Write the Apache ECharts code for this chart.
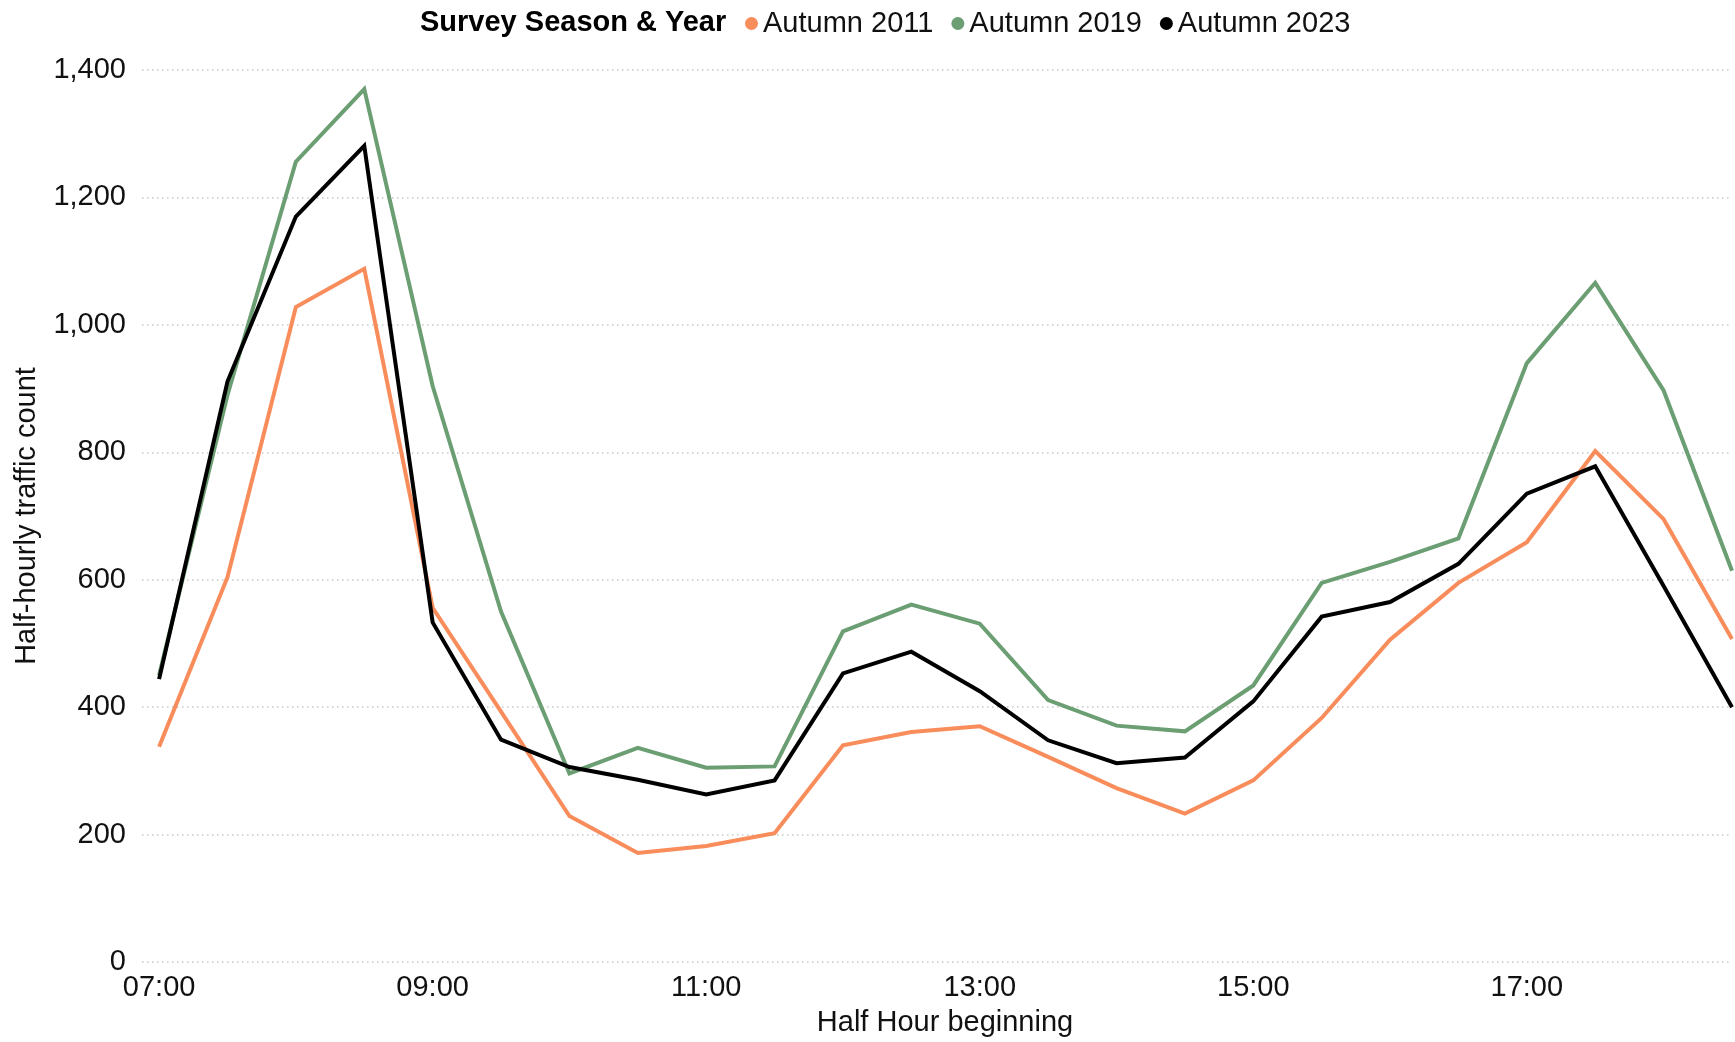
<!DOCTYPE html>
<html>
<head>
<meta charset="utf-8">
<title>Half-hourly traffic count</title>
<script src="https://cdn.jsdelivr.net/npm/echarts@6/dist/echarts.min.js"></script>
<style>
  html, body { margin: 0; padding: 0; background: #ffffff; }
  #chart { width: 1735px; height: 1042px; }
</style>
</head>
<body>
<div id="chart"></div>
<script>
// Half-hour slots, 07:00 to 18:30
const halfHours = ['07:00','07:30','08:00','08:30','09:00','09:30','10:00','10:30','11:00','11:30',
  '12:00','12:30','13:00','13:30','14:00','14:30','15:00','15:30','16:00','16:30',
  '17:00','17:30','18:00','18:30'];

// Traffic counts per survey
const autumn2011 = [338, 604, 1028, 1088, 556, 393, 229, 171, 182, 202, 340, 361,
  370, 322, 273, 233, 285, 383, 506, 595, 659, 802, 695, 507];
const autumn2019 = [450, 890, 1256, 1370, 904, 550, 296, 336, 305, 307, 519, 561,
  531, 411, 371, 362, 434, 595, 628, 665, 940, 1066, 897, 614];
const autumn2023 = [444, 911, 1170, 1281, 533, 349, 306, 286, 263, 285, 453, 487,
  425, 348, 312, 321, 409, 542, 565, 625, 735, 778, 590, 400];

// Axis ticks
const xTickHours = [7, 9, 11, 13, 15, 17];
const yTicks = [0, 200, 400, 600, 800, 1000, 1200, 1400];

const seriesNames = ['Autumn 2011', 'Autumn 2019', 'Autumn 2023'];
const seriesColors = ['#F98C5B', '#6B9E72', '#000000'];

const FONT = '"Liberation Sans", Arial, sans-serif';
const FS = 29;

// "HH:MM" -> decimal hours
function toHours(t) {
  const [h, m] = t.split(':').map(Number);
  return h + m / 60;
}
function fmtHour(v) {
  const h = Math.floor(v + 1e-9);
  const m = Math.round((v - h) * 60);
  return String(h).padStart(2, '0') + ':' + String(m).padStart(2, '0');
}
function pairs(values) {
  return values.map((v, i) => [toHours(halfHours[i]), v]);
}

const chart = echarts.init(document.getElementById('chart'), null, { renderer: 'canvas' });

chart.setOption({
  backgroundColor: '#ffffff',
  animation: false,
  textStyle: { fontFamily: FONT },
  graphic: [{
    type: 'text',
    left: 420,
    top: 8,
    style: {
      text: 'Survey Season & Year',
      font: 'bold ' + FS + 'px ' + FONT,
      fill: '#000000'
    }
  }],
  legend: {
    data: seriesNames,
    left: 740,
    top: 4,
    icon: 'circle',
    itemWidth: 13,
    itemHeight: 13,
    itemGap: 18,
    textStyle: { fontSize: FS, color: '#111111', fontFamily: FONT }
  },
  grid: { left: 142, right: 3, top: 70, bottom: 79, containLabel: false },
  xAxis: {
    type: 'value',
    min: 6.875,
    max: 18.5,
    name: 'Half Hour beginning',
    nameLocation: 'middle',
    nameGap: 46,
    nameTextStyle: { fontSize: FS, color: '#111111', fontFamily: FONT, padding: [0, 0, 0, 16] },
    axisLine: { show: false },
    axisTick: { show: false },
    splitLine: { show: false },
    axisLabel: {
      customValues: xTickHours,
      formatter: v => fmtHour(v),
      fontSize: FS,
      color: '#111111',
      margin: 11,
      fontFamily: FONT
    }
  },
  yAxis: {
    type: 'value',
    min: yTicks[0],
    max: yTicks[yTicks.length - 1],
    interval: 200,
    name: 'Half-hourly traffic count',
    nameLocation: 'middle',
    nameGap: 101,
    nameTextStyle: { fontSize: FS, color: '#111111', fontFamily: FONT },
    axisLine: { show: false },
    axisTick: { show: false },
    axisLabel: {
      formatter: v => v.toLocaleString('en-US'),
      fontSize: FS,
      color: '#111111',
      margin: 16,
      fontFamily: FONT
    },
    splitLine: {
      show: true,
      lineStyle: { color: '#c8c8c8', width: 1.5, type: [1.5, 3.5] }
    }
  },
  series: [autumn2011, autumn2019, autumn2023].map((vals, i) => ({
    name: seriesNames[i],
    type: 'line',
    data: pairs(vals),
    showSymbol: false,
    symbol: 'circle',
    clip: false,
    color: seriesColors[i],
    lineStyle: { width: 4, color: seriesColors[i], join: 'miter' }
  }))
});
</script>
</body>
</html>
